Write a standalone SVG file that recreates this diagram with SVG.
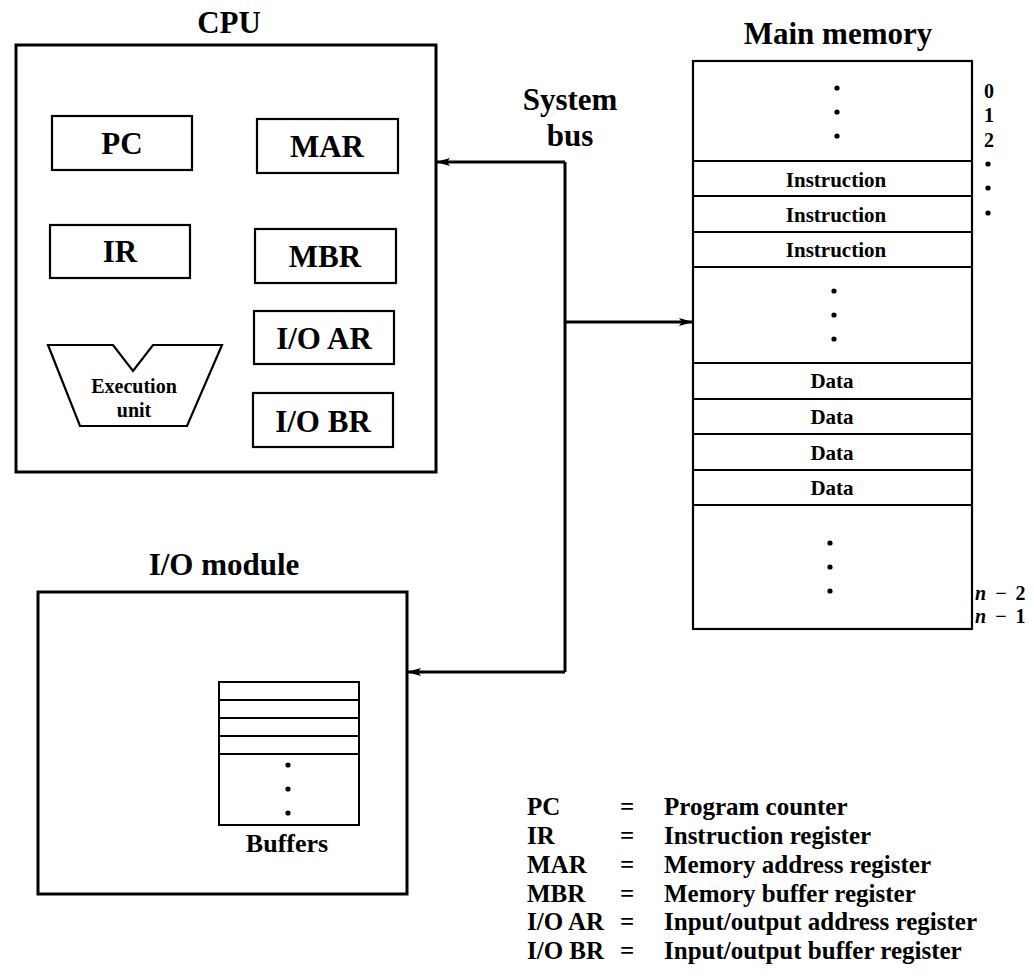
<svg xmlns="http://www.w3.org/2000/svg" width="1034" height="980" viewBox="0 0 1034 980">
<defs>
<style>
text{font-family:"Liberation Serif","Times New Roman",serif;font-weight:bold;fill:#000}
.t{font-size:31px;text-anchor:middle}
.reg{font-size:31px;text-anchor:middle}
.m{font-size:21px;text-anchor:middle}
.idx{font-size:20px}
.lg{font-size:25px}
.box{fill:#fff;stroke:#000;stroke-width:3}
.rb{fill:#fff;stroke:#000;stroke-width:2.2}
.div{stroke:#000;stroke-width:1.8;fill:none}
.bus{stroke:#000;stroke-width:3;fill:none}
</style>
<marker id="ah" markerWidth="14" markerHeight="10" refX="13" refY="5" orient="auto" markerUnits="userSpaceOnUse">
<path d="M0,1 L14,5 L0,9 L3,5 Z" fill="#000"/>
</marker>
</defs>
<rect width="1034" height="980" fill="#fff"/>

<g id="cpu">
<text class="t" x="229" y="33">CPU</text>
<rect class="box" x="16" y="45" width="420" height="427"/>
<g id="pc"><rect class="rb" x="52" y="116" width="140" height="54"/><text class="reg" x="122" y="154">PC</text></g>
<g id="mar"><rect class="rb" x="257" y="119" width="141" height="54"/><text class="reg" x="327" y="157">MAR</text></g>
<g id="ir"><rect class="rb" x="50" y="225" width="140" height="53"/><text class="reg" x="120" y="262">IR</text></g>
<g id="mbr"><rect class="rb" x="255" y="229" width="141" height="54"/><text class="reg" x="325" y="267">MBR</text></g>
<g id="ioar"><rect class="rb" x="254" y="311" width="140" height="53"/><text class="reg" x="324" y="349">I/O AR</text></g>
<g id="iobr"><rect class="rb" x="253" y="393" width="140" height="54"/><text class="reg" x="323" y="432">I/O BR</text></g>
<g id="exec">
<polygon class="rb" points="48,345 113,345 133,371 153,345 222,345 187,426 80,426"/>
<text x="134" y="393" style="font-size:20px;text-anchor:middle">Execution</text>
<text x="134" y="417" style="font-size:20px;text-anchor:middle">unit</text>
</g>
</g>

<g id="bus-label">
<text class="t" x="570" y="110">System</text>
<text class="t" x="570" y="146">bus</text>
</g>

<g id="memory">
<text class="t" x="838" y="44">Main memory</text>
<rect class="box" x="693" y="61" width="279" height="568" style="stroke-width:2.2"/>
<path class="div" d="M693,161H972M693,196H972M693,232H972M693,267H972M693,363H972M693,399H972M693,434H972M693,470H972M693,505H972"/>
<g fill="#000">
<circle cx="837" cy="88" r="2.6"/><circle cx="837" cy="112" r="2.6"/><circle cx="837" cy="136" r="2.6"/>
<circle cx="834" cy="291" r="2.6"/><circle cx="834" cy="315" r="2.6"/><circle cx="834" cy="339" r="2.6"/>
<circle cx="830" cy="543" r="2.6"/><circle cx="830" cy="567" r="2.6"/><circle cx="830" cy="591" r="2.6"/>
<circle cx="988" cy="164" r="2.6"/><circle cx="988" cy="188" r="2.6"/><circle cx="988" cy="213" r="2.6"/>
</g>
<text class="m" x="836" y="187">Instruction</text>
<text class="m" x="836" y="222">Instruction</text>
<text class="m" x="836" y="257">Instruction</text>
<text class="m" x="832" y="388">Data</text>
<text class="m" x="832" y="424">Data</text>
<text class="m" x="832" y="460">Data</text>
<text class="m" x="832" y="495">Data</text>
<text class="idx" x="984" y="98">0</text>
<text class="idx" x="984" y="122">1</text>
<text class="idx" x="984" y="147">2</text>
<text class="idx" x="975" y="600" word-spacing="4"><tspan font-style="italic">n</tspan> − 2</text>
<text class="idx" x="975" y="623" word-spacing="4"><tspan font-style="italic">n</tspan> − 1</text>
</g>

<g id="io">
<text class="t" x="224" y="575">I/O module</text>
<rect class="box" x="38" y="592" width="369" height="302"/>
<rect class="rb" x="219" y="682" width="140" height="143" style="stroke-width:2"/>
<path class="div" d="M219,700H359M219,718H359M219,736H359M219,754H359"/>
<g fill="#000"><circle cx="288" cy="765" r="2.6"/><circle cx="288" cy="789" r="2.6"/><circle cx="288" cy="813" r="2.6"/></g>
<text x="287" y="852" style="font-size:26px;text-anchor:middle">Buffers</text>
</g>

<g id="connectors">
<path class="bus" d="M565,162V672"/>
<path class="bus" d="M565,162H437" marker-end="url(#ah)"/>
<path class="bus" d="M565,322H692" marker-end="url(#ah)"/>
<path class="bus" d="M565,672H408" marker-end="url(#ah)"/>
</g>

<g id="legend">
<text class="lg" x="527" y="815">PC</text><text class="lg" x="627" y="815" text-anchor="middle">=</text><text class="lg" x="664" y="815">Program counter</text>
<text class="lg" x="527" y="844">IR</text><text class="lg" x="627" y="844" text-anchor="middle">=</text><text class="lg" x="664" y="844">Instruction register</text>
<text class="lg" x="527" y="873">MAR</text><text class="lg" x="627" y="873" text-anchor="middle">=</text><text class="lg" x="664" y="873">Memory address register</text>
<text class="lg" x="527" y="902">MBR</text><text class="lg" x="627" y="902" text-anchor="middle">=</text><text class="lg" x="664" y="902">Memory buffer register</text>
<text class="lg" x="527" y="930">I/O AR</text><text class="lg" x="627" y="930" text-anchor="middle">=</text><text class="lg" x="664" y="930">Input/output address register</text>
<text class="lg" x="527" y="959">I/O BR</text><text class="lg" x="627" y="959" text-anchor="middle">=</text><text class="lg" x="664" y="959">Input/output buffer register</text>
</g>
</svg>
